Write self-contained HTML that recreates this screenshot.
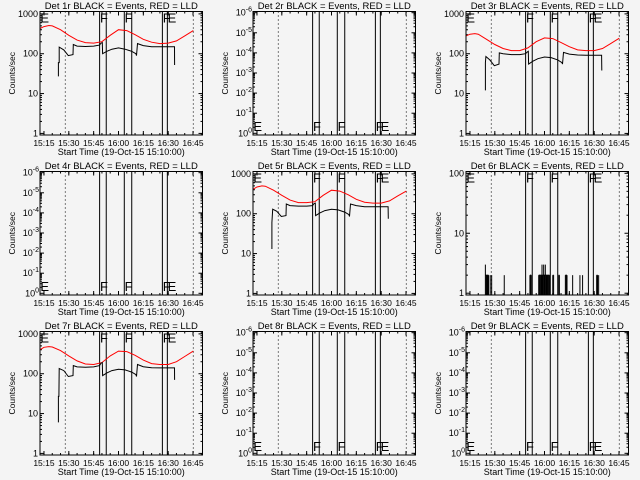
<!DOCTYPE html>
<html><head><meta charset="utf-8"><style>
html,body{margin:0;padding:0;background:#f4f4f4;}
svg{display:block;font-family:"Liberation Sans",sans-serif;}
</style></head><body>
<svg id="chart" width="640" height="480" viewBox="0 0 640 480" xmlns="http://www.w3.org/2000/svg">
<rect x="0" y="0" width="640" height="480" fill="#f4f4f4"/>
</svg>
<script>
// ---- data ----
const panelNames = ["1r","2r","3r","4r","5r","6r","7r","8r","9r"];
const xTickLabels = ["15:15","15:30","15:45","16:00","16:15","16:30","16:45"];
const xTickTimes = [15,30,45,60,75,90,105]; // minutes after 15:00
const solidLineTimes = [48.6,52.6,63.5,68,86.5,89.5];
const dottedLineTimes = [27.9,105.2];
const markerTimes = [12.8,48.8,63.7,86.7,89.7];
const markerLetters = ["E","F","F","F","E"];
const redTimes = [12.6,15,18,20,25,30,35,40,45,50,55,60,65,70,75,80,85,90,95,100,105.2];
const red1 = [430,480,510,500,400,290,220,190,185,200,290,400,380,300,230,195,180,185,210,280,380];
const red3 = [280,310,320,310,230,170,135,120,120,140,200,250,240,190,150,125,120,120,135,180,245];
const red5 = [410,470,500,490,390,290,220,190,190,200,290,390,370,300,230,195,185,185,210,280,370];
const red7 = [400,460,480,470,380,280,210,175,170,190,280,370,360,290,220,180,170,170,200,270,370];
const black1T = [23.7,23.7,24.2,24.2,27,29.7,32.5,32.7,35,40,45,48.5,49.5,50.2,50.4,53,56,60,64,68,70.5,70.9,71.5,75,80,85,90,93.8,93.9];
const black1V = [27,60,60,147,125,90,95,170,155,152,155,165,185,190,100,115,130,140,130,115,100,90,180,160,150,150,150,150,52];
const black3T = [24.3,24.3,24.6,27,29.7,32.5,32.7,35,40,45,48.5,49.5,50.2,50.4,53,56,60,64,68,70.5,70.9,71.5,75,80,85,90,94.5,94.6];
const black3V = [12,60,85,70,50,55,105,100,95,95,100,110,115,55,65,75,83,80,70,60,55,108,98,93,92,92,92,38];
const black5T = [24.0,24.0,24.5,27,29.7,32.5,32.7,35,40,45,48.5,49.5,50.2,50.4,53,56,60,64,68,70.5,70.9,71.5,75,80,85,90,94.2,94.3];
const black5V = [13,60,130,115,85,90,175,160,155,155,160,180,185,90,105,120,130,125,110,95,85,175,160,150,150,150,150,75];
const black7T = [23.7,23.7,24.0,24.2,27,29.7,32.5,32.7,35,40,45,48.5,49.5,50.2,50.4,53,56,60,64,68,70.5,70.9,71.5,75,80,85,90,93.8,93.9];
const black7V = [6,27,27,135,120,85,90,160,148,145,148,160,185,190,90,105,120,130,125,110,95,85,170,150,142,140,140,140,70];
const spikeTimes = [24.3,24.8,25.3,25.7,26.2,27.2,28.1,35.7,51.2,51.6,52.0,56.5,57.0,57.5,58.0,58.5,59.0,59.5,60.0,60.5,61,61.5,62,62.5,63,65,65.5,68.6,69,72.6,73.1,73.6,77,81.4,83,91.5,92,92.7];
const spikeValues = [3,2,2,2,2,2,2,2,2,2,2,2,2,2,2,3,2,3,2,3,2,2,2,2,2,2,2,2,2,2,2,2,2,2,2,2,2,2];

const NS = "http://www.w3.org/2000/svg";
const svg = document.getElementById("chart");
function mk(tag, attrs, parent){
  const e = document.createElementNS(NS, tag);
  for (const k in attrs) e.setAttribute(k, attrs[k]);
  (parent||svg).appendChild(e);
  return e;
}
const cols = [0,213,426], rows = [0,160,320];
const panelType = ["log3","zero","log3","zero","log3","log2","log3","zero","zero"];
const redData = {0:red1,2:red3,4:red5,6:red7};
const blackData = {0:[black1T,black1V],2:[black3T,black3V],4:[black5T,black5V],6:[black7T,black7V]};

panelNames.forEach((nm, i) => {
  const ox = cols[i%3], oy = rows[Math.floor(i/3)];
  const L = ox+40, R = ox+202.5, T = oy+11.5, B = oy+135;
  const g = mk("g", {});
  
  
  const xs = t => L + (t-12.6)*1.656;
  const type = panelType[i];
  let ys, lo, hi;
  if (type === "log3") { lo=-0.04; hi=3.06; }
  else if (type === "log2") { lo=-0.03; hi=2.03; }
  if (type !== "zero") ys = v => B - (Math.log10(v)-lo)/(hi-lo)*(B-T);

  const title = mk("text", {x:(L+R)/2, y:oy+9, "text-anchor":"middle", "font-size":"9.5", fill:"#000"}, g);
  title.textContent = "Det " + nm + " BLACK = Events, RED = LLD";
  
  

  const yt = mk("text", {x:0, y:0, transform:`translate(${ox+15},${(T+B)/2}) rotate(-90)`, "text-anchor":"middle", "font-size":"8.5", fill:"#000"}, g);
  yt.textContent = "Counts/sec";
  
  

  xTickTimes.forEach((t, k) => {
    const x = xs(t);
    const lb = mk("text", {x:x, y:B+11, "text-anchor":"middle", "font-size":"8.5", fill:"#000"}, g);
    lb.textContent = xTickLabels[k];
    
    
    mk("line", {x1:x, x2:x, y1:B, y2:B-4, stroke:"#000", "stroke-width":1}, g);
    mk("line", {x1:x, x2:x, y1:T, y2:T+4, stroke:"#000", "stroke-width":1}, g);
  });
  for (let t = 15; t <= 110; t += 5) {
    const x = xs(t); if (x > R) break;
    mk("line", {x1:x, x2:x, y1:B, y2:B-2, stroke:"#000", "stroke-width":1}, g);
    mk("line", {x1:x, x2:x, y1:T, y2:T+2, stroke:"#000", "stroke-width":1}, g);
  }
  const xl = mk("text", {x:(L+R)/2, y:B+20, "text-anchor":"middle", "font-size":"9", fill:"#000"}, g);
  xl.textContent = "Start Time (19-Oct-15 15:10:00)";
  
  

  function ytick(y, len){
    mk("line", {x1:L, x2:L+len, y1:y, y2:y, stroke:"#000", "stroke-width":1}, g);
    mk("line", {x1:R, x2:R-len, y1:y, y2:y, stroke:"#000", "stroke-width":1}, g);
  }
  if (type !== "zero") {
    const maxDec = type === "log3" ? 3 : 2;
    for (let d = 0; d <= maxDec; d++) {
      const y = ys(Math.pow(10,d));
      ytick(y, 4);
      const lb = mk("text", {x:L-2, y:y+3, "text-anchor":"end", "font-size":"9", fill:"#000"}, g);
      lb.textContent = String(Math.pow(10,d));
      
      
      if (d < maxDec) for (let m = 2; m <= 9; m++) ytick(ys(m*Math.pow(10,d)), 2);
    }
  } else {
    const exps = ["0","-1","-2","-3","-4","-5","-6"];
    for (let k = 0; k < 7; k++) {
      const y = oy+133.3 - k*20.1;
      ytick(y, 4);
      const lb = mk("text", {x:L-1, y:y+3, "text-anchor":"end", "font-size":"9", fill:"#000"}, g);
      
      
      const a = mk("tspan", {}, lb); a.textContent = "10";
      const b = mk("tspan", {dy:"-4", "font-size":"7"}, lb); b.textContent = exps[k];
      if (k < 6) for (let m = 2; m <= 9; m++) ytick(y - Math.log10(m)*20.1, 2);
    }
  }

  solidLineTimes.forEach(t => {
    const l = mk("line", {x1:xs(t), x2:xs(t), y1:T, y2:B, stroke:"#000", "stroke-width":1}, g);
    
    
  });
  dottedLineTimes.forEach(t => {
    const l = mk("line", {x1:xs(t), x2:xs(t), y1:T, y2:B, stroke:"#000", "stroke-width":1, "stroke-dasharray":"1,3"}, g);
    
    
  });
  markerTimes.forEach((t, k) => {
    const y = type === "zero" ? B-4 : T+11;
    const lt = mk("text", {x:xs(t), y:y, "font-size":"13", fill:"#000"}, g);
    lt.textContent = markerLetters[k];
    
    
  });

  if (redData[i]) {
    const rv = redData[i];
    const pts = redTimes.map((t,k) => xs(t).toFixed(1)+","+ys(rv[k]).toFixed(1)).join(" ");
    const pl = mk("polyline", {points:pts, fill:"none", stroke:"#ff0000", "stroke-width":1}, g);
    
    
    const [bt, bv] = blackData[i];
    const bp = bt.map((t,k) => xs(t).toFixed(1)+","+ys(bv[k]).toFixed(1)).join(" ");
    const pb = mk("polyline", {points:bp, fill:"none", stroke:"#000", "stroke-width":1}, g);
    
    
  }
  if (type === "log2") {
    spikeTimes.forEach((t,k) => {
      const s = mk("line", {x1:xs(t), x2:xs(t), y1:B, y2:ys(spikeValues[k]), stroke:"#000", "stroke-width":1}, g);
      
      
      if (k > 0 && t - spikeTimes[k-1] <= 0.6) {
        const v = Math.min(spikeValues[k], spikeValues[k-1]);
        mk("line", {x1:xs(spikeTimes[k-1]), x2:xs(t), y1:ys(v), y2:ys(v), stroke:"#000", "stroke-width":1}, g);
      }
    });
  }

  const fr = mk("rect", {x:L, y:T, width:R-L, height:B-T, fill:"none", stroke:"#000", "stroke-width":1}, g);
  
  
});
</script>
</body></html>
